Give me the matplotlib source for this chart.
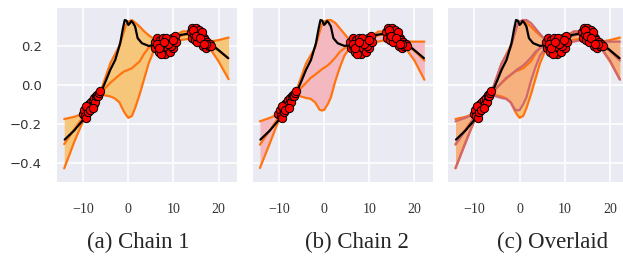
import numpy as np
import matplotlib.pyplot as plt
import seaborn as sns

sns.set_style('darkgrid')

x_grid = [-14.2, -12, -10, -8, -6, -4, -3, -2, -1, -0.5, 0, 0.8, 1.5, 2.5,
          3.5, 4.5, 6, 8, 10, 12, 14, 16, 18, 20, 22.2]

# chain 1 : upper / mean / lower
c1_upper = [-0.176, -0.165, -0.148, -0.088, -0.025, 0.11, 0.155, 0.20, 0.27, 0.31,
            0.325, 0.333, 0.32, 0.30, 0.275, 0.255, 0.23, 0.24, 0.248, 0.275,
            0.274, 0.245, 0.222, 0.23, 0.243]
c1_mean = [-0.305, -0.23, -0.165, -0.098, -0.038, 0.01, 0.03, 0.05, 0.068, 0.073,
           0.077, 0.085, 0.10, 0.12, 0.16, 0.19, 0.21, 0.225, 0.233, 0.255,
           0.26, 0.233, 0.205, 0.175, 0.137]
c1_lower = [-0.43, -0.295, -0.185, -0.11, -0.05, -0.06, -0.07, -0.09, -0.137, -0.155,
            -0.17, -0.16, -0.12, -0.05, 0.03, 0.11, 0.195, 0.212, 0.22, 0.232,
            0.238, 0.22, 0.19, 0.12, 0.029]

# chain 2 : upper / mean / lower
c2_upper = [-0.188, -0.17, -0.15, -0.08, -0.022, 0.11, 0.15, 0.19, 0.27, 0.31,
            0.325, 0.333, 0.333, 0.318, 0.29, 0.262, 0.222, 0.222, 0.239, 0.274,
            0.274, 0.24, 0.222, 0.222, 0.222]
c2_mean = [-0.308, -0.235, -0.165, -0.095, -0.038, 0.01, 0.035, 0.052, 0.07, 0.08,
           0.087, 0.10, 0.115, 0.14, 0.17, 0.188, 0.205, 0.213, 0.227, 0.255,
           0.262, 0.23, 0.205, 0.175, 0.125]
c2_lower = [-0.428, -0.30, -0.18, -0.11, -0.054, -0.068, -0.072, -0.09, -0.128, -0.132,
            -0.13, -0.10, -0.065, 0.02, 0.09, 0.15, 0.20, 0.207, 0.214, 0.222,
            0.232, 0.215, 0.19, 0.125, 0.026]

# true function
truth_x = [-14.1, -12, -10, -8, -6, -5, -4, -2.9, -1.8, -1.2, -0.8, -0.4, 0, 0.3,
           0.66, 1.0, 1.5, 2.06, 3.0, 4.5, 6.0, 8, 9.3, 10.5, 11.5, 13.7, 15.9,
           18.1, 19.9, 22.1]
truth_y = [-0.282, -0.235, -0.18, -0.11, -0.035, 0.02, 0.077, 0.128, 0.214, 0.29,
           0.333, 0.33, 0.308, 0.315, 0.328, 0.32, 0.30, 0.24, 0.214, 0.2, 0.205,
           0.205, 0.214, 0.235, 0.256, 0.265, 0.24, 0.214, 0.18, 0.137]

# observations
obs_x = [-10.1, -9.8, -9.6, -9.3, -9.1, -8.9, -8.7, -8.5, -8.3, -8.1, -7.9, -7.7,
         -7.5, -7.3, -7.1, -6.9, -6.7, -6.5, -6.3, -9.4, -8.6, -7.8,
         5.8, 6.0, 6.3, 6.5, 6.8, 7.0, 7.2, 7.5, 7.7, 8.0, 8.2, 8.5, 8.7, 9.0,
         9.2, 9.5, 9.7, 10.0, 10.3, 6.4, 7.3, 8.4, 9.4, 10.5, 6.9, 8.8, 7.8, 9.9,
         13.8, 14.0, 14.2, 14.5, 14.7, 15.0, 15.2, 15.5, 15.7, 16.0, 16.2, 16.5,
         16.7, 17.0, 17.2, 17.5, 17.8, 18.1, 18.4, 14.4, 15.3, 16.3, 17.3, 14.9,
         15.9, 16.8]
obs_y = [-0.15, -0.13, -0.16, -0.17, -0.12, -0.14, -0.10, -0.12, -0.09, -0.11,
         -0.08, -0.10, -0.07, -0.09, -0.06, -0.05, -0.06, -0.04, -0.03, -0.11,
         -0.13, -0.12,
         0.22, 0.19, 0.24, 0.20, 0.17, 0.23, 0.21, 0.18, 0.24, 0.20, 0.16, 0.22,
         0.19, 0.23, 0.17, 0.21, 0.24, 0.19, 0.25, 0.21, 0.16, 0.24, 0.20, 0.22,
         0.19, 0.21, 0.22, 0.23,
         0.27, 0.24, 0.29, 0.26, 0.23, 0.29, 0.27, 0.25, 0.28, 0.22, 0.26, 0.20,
         0.24, 0.23, 0.19, 0.22, 0.20, 0.21, 0.20, 0.28, 0.22, 0.27, 0.21, 0.25,
         0.24, 0.21]

xticks = [-10, 0, 10, 20]
yticks = [0.2, 0.0, -0.2, -0.4]
captions = ['(a) Chain 1', '(b) Chain 2', '(c) Overlaid']

W, H = 623, 256
fig = plt.figure(figsize=(W / 100, H / 100), dpi=100)

# axes boxes in pixels (left, right); last panel is cut by the image edge
boxes = [(57, 236.7), (252.7, 432.5), (448.3, 628)]
caption_x = [138, 357, 553]

band1 = dict(fill='#f6c67b', line='#ff7410')
band2 = dict(fill='#f4b9c0', line='#ff7410')
band2_over = dict(fill=None, line='#d0666e')


def draw_band(ax, up, mu, lo, style, fill=True):
    if fill:
        ax.fill_between(x_grid, lo, up, color=style['fill'], lw=0, zorder=1)
    for arr in (up, mu, lo):
        ax.plot(x_grid, arr, color=style['line'], lw=1.6, zorder=2)


for i, (l, r) in enumerate(boxes):
    ax = fig.add_axes([l / W, (H - 182) / H, (r - l) / W, 174 / H])
    ax.set_facecolor('#eaeaf2')
    ax.grid(color='white', lw=1.1)
    for s in ax.spines.values():
        s.set_visible(False)

    if i == 0:
        draw_band(ax, c1_upper, c1_mean, c1_lower, band1)
    elif i == 1:
        draw_band(ax, c2_upper, c2_mean, c2_lower, band2)
    else:
        draw_band(ax, c1_upper, c1_mean, c1_lower, band1)
        ax.fill_between(x_grid, c2_lower, c2_upper, color='#fb8c86', alpha=0.35,
                        lw=0, zorder=1.5)
        draw_band(ax, c2_upper, c2_mean, c2_lower, band2_over, fill=False)

    ax.plot(truth_x, truth_y, color='black', lw=1.6, zorder=3)
    ax.scatter(obs_x, obs_y, s=36, color='red', edgecolor='black', lw=0.7, zorder=4)

    ax.set_xlim(-15.8, 24.0)
    ax.set_ylim(-0.5, 0.395)
    ax.set_xticks(xticks)
    ax.set_xticklabels(['\u221210', '0', '10', '20'], family='Liberation Serif',
                       fontsize=10, color='#333333')
    ax.set_yticks(yticks)
    if i == 0:
        ax.set_yticklabels(['0.2', '0.0', '\u22120.2', '\u22120.4'], fontsize=9.5,
                           color='#333333')
    else:
        ax.set_yticklabels([])
    ax.tick_params(axis='x', length=0, pad=15)
    ax.tick_params(axis='y', length=0, pad=11)

    fig.text(caption_x[i] / W, 1 - 242 / H, captions[i], ha='center', va='center',
             family='Liberation Serif', fontsize=16.5)

fig.savefig('out.png', dpi=100)
